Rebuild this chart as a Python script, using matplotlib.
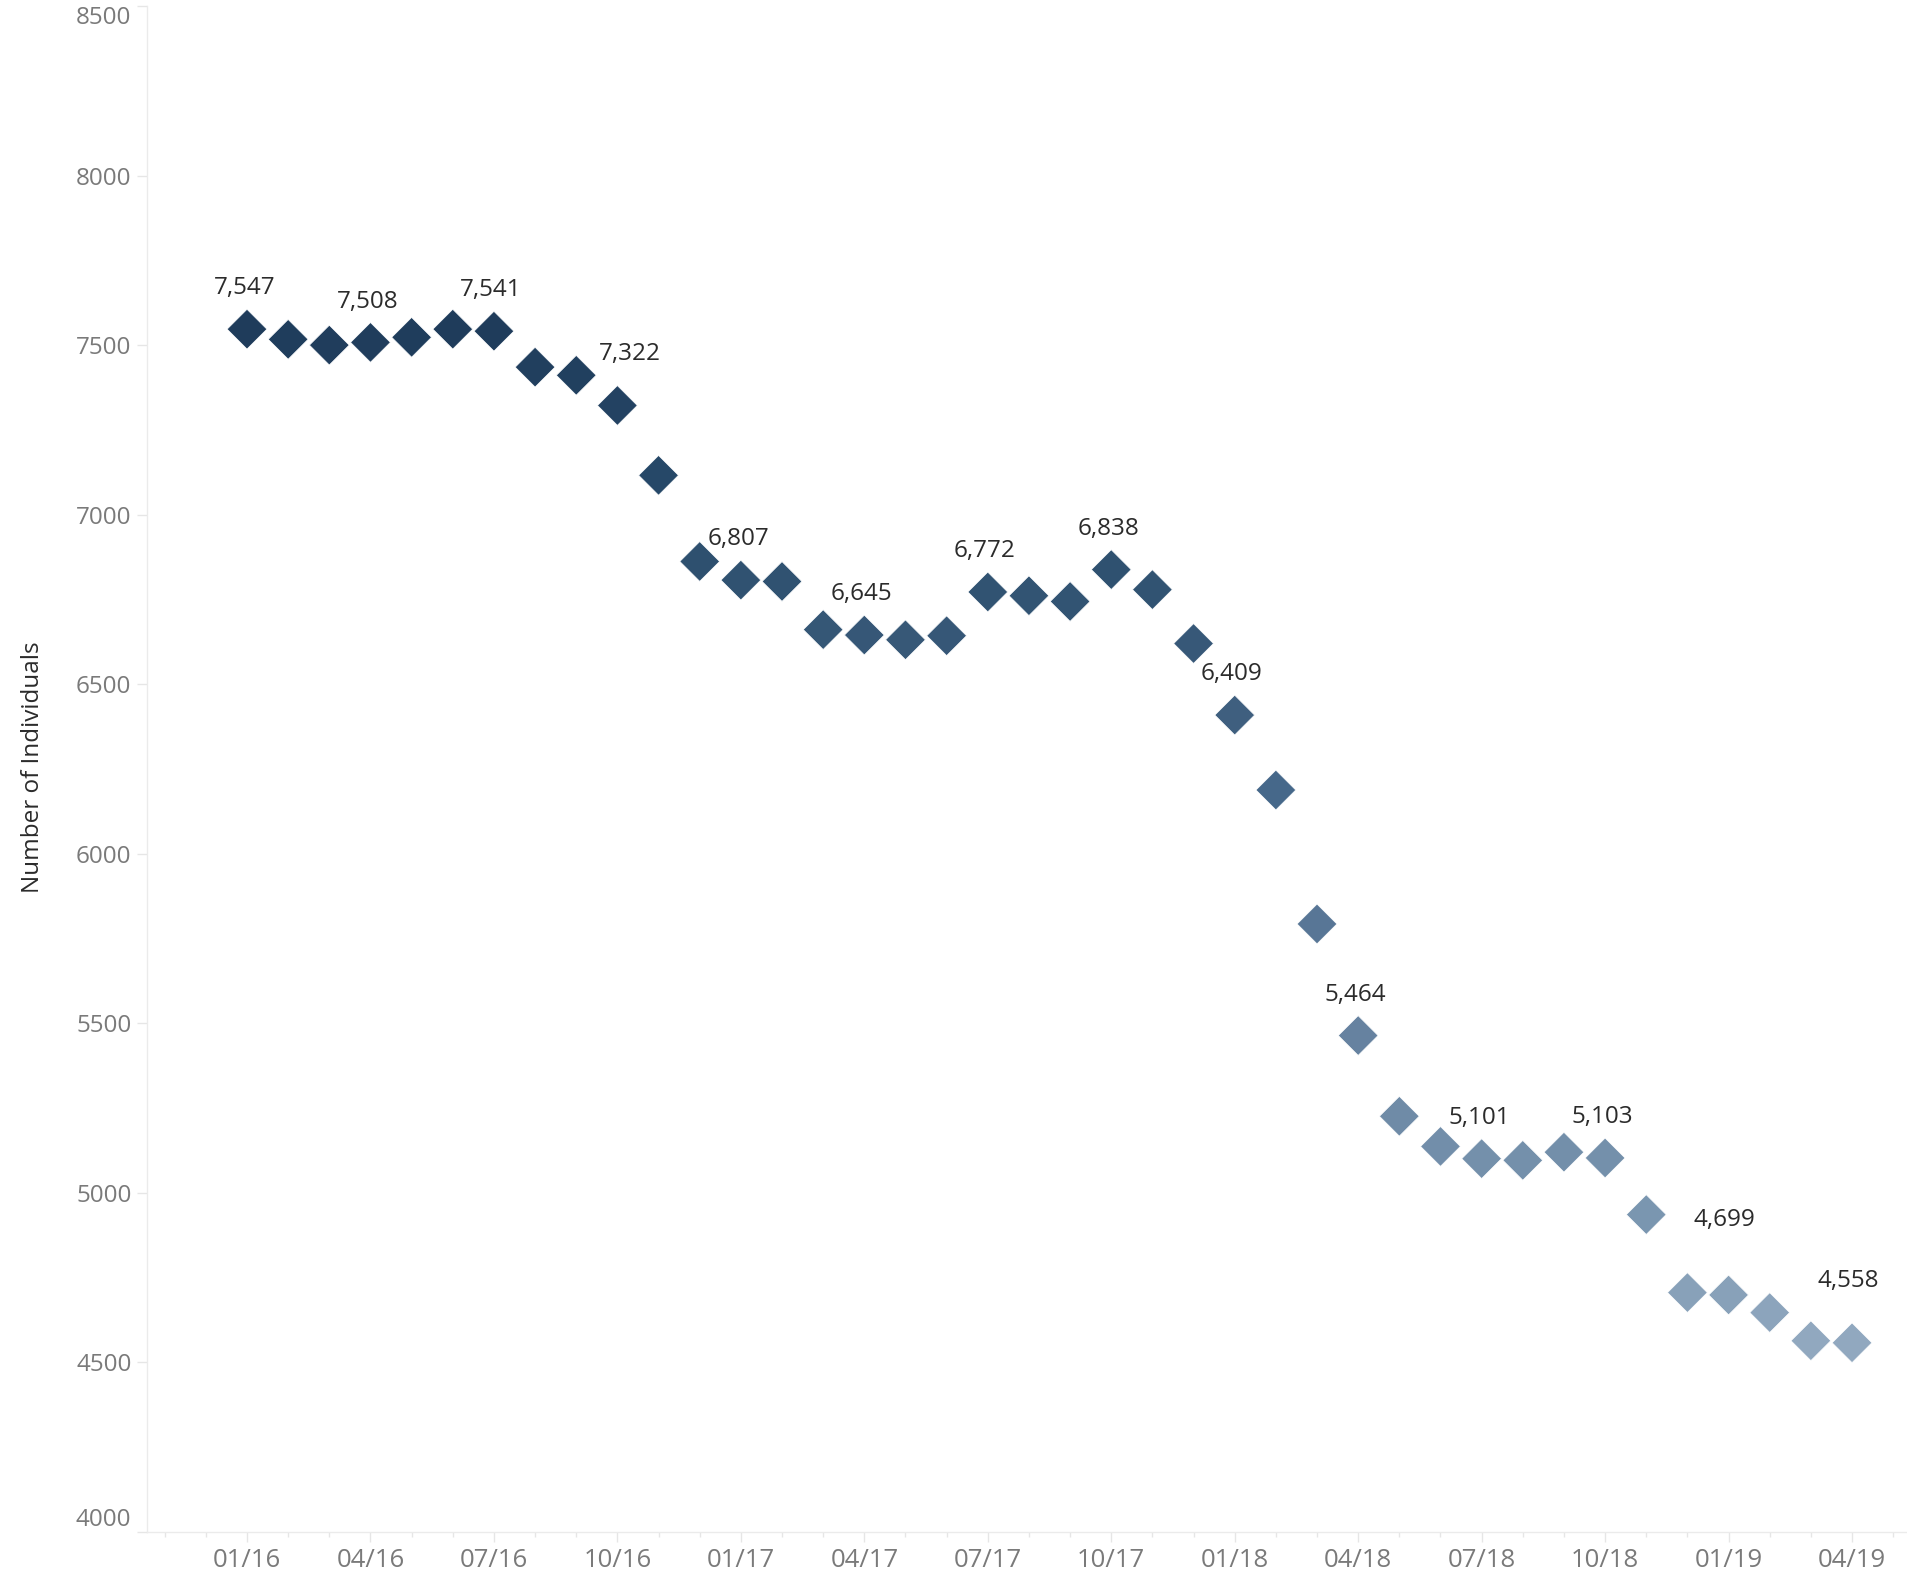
import numpy as np
import pandas as pd
import matplotlib
matplotlib.use("Agg")
import matplotlib.pyplot as plt
from matplotlib.colors import LinearSegmentedColormap

plt.rcParams['font.family'] = ['Open Sans', 'DejaVu Sans']

# monthly counts, 01/2016 .. 04/2019
months = pd.date_range('2016-01-01', periods=40, freq='MS')
individuals = [7547, 7517, 7500, 7508, 7523, 7547, 7541, 7435, 7411, 7322,
               7116, 6862, 6807, 6803, 6661, 6645, 6631, 6643, 6772, 6761,
               6744, 6838, 6779, 6620, 6409, 6188, 5793, 5464, 5226, 5137,
               5101, 5096, 5120, 5103, 4936, 4706, 4699, 4647, 4564, 4558]
labelled = list(range(0, 40, 3))
y_ticks = list(range(4000, 8501, 500))

# label offsets in points (dx, dy) where the label was moved to avoid overlap
default_off = (-2, 25)
label_off = {9: (9, 33), 36: (-3, 50), 39: (-3, 40)}

# colour ramp (light -> dark) driven by value
ramp = LinearSegmentedColormap.from_list('ramp', [
    (0.0, '#91a8bf'), (0.126, '#7a96b0'), (0.302, '#6682a0'),
    (0.545, '#46688a'), (0.619, '#3f5f7f'), (0.763, '#2f5170'),
    (0.856, '#264868'), (1.0, '#1f3c5b')])

W, H = 1908, 1578
fig = plt.figure(figsize=(W / 100, H / 100), dpi=100)
ax = fig.add_axes([147 / W, 46 / H, 1 - 147 / W, (1532 - 6) / H])

x = np.arange(len(individuals))
vals = np.array(individuals)
ax.scatter(x, vals, c=vals, cmap=ramp, vmin=vals.min(), vmax=vals.max(),
           marker='D', s=410, edgecolors='white', linewidths=0.5, zorder=3)

for i in labelled:
    dx, dy = label_off.get(i, default_off)
    ax.annotate(f"{individuals[i]:,}", (x[i], vals[i]), xytext=(dx, dy),
                textcoords='offset points', ha='center', va='baseline',
                fontsize=17.5, color='#2b2b2b')

ax.set_xlim(-2.43, 40.36)
ax.set_ylim(4000, 8500)

ax.set_xticks(labelled)
ax.set_xticklabels([months[i].strftime('%m/%y') for i in labelled])
ax.set_xticks(np.arange(-2, 41), minor=True)
ax.set_yticks(y_ticks)
ax.set_yticklabels([str(v) for v in y_ticks])

ax.tick_params(axis='x', which='major', length=7.2, width=1, color='#e6e6e6',
               labelsize=18.5, labelcolor='#7a7a7a', pad=4)
ax.tick_params(axis='x', which='minor', length=3.6, width=1, color='#e6e6e6')
ax.tick_params(axis='y', which='major', length=7.2, width=1, color='#e6e6e6',
               labelsize=17.5, labelcolor='#7a7a7a', pad=4)

for side in ['top', 'right']:
    ax.spines[side].set_visible(False)
for side in ['left', 'bottom']:
    ax.spines[side].set_color('#ebebeb')
    ax.spines[side].set_linewidth(1)

# keep the end labels inside the axis like the original
ylabels = ax.get_yticklabels()
ylabels[-1].set_verticalalignment('top')
ylabels[0].set_verticalalignment('bottom')

fig.text(33 / W, 1 - 767 / H, 'Number of Individuals', rotation=90,
         ha='center', va='center', fontsize=17.5, color='#2b2b2b')

fig.savefig('out.png', dpi=100, facecolor='white')
